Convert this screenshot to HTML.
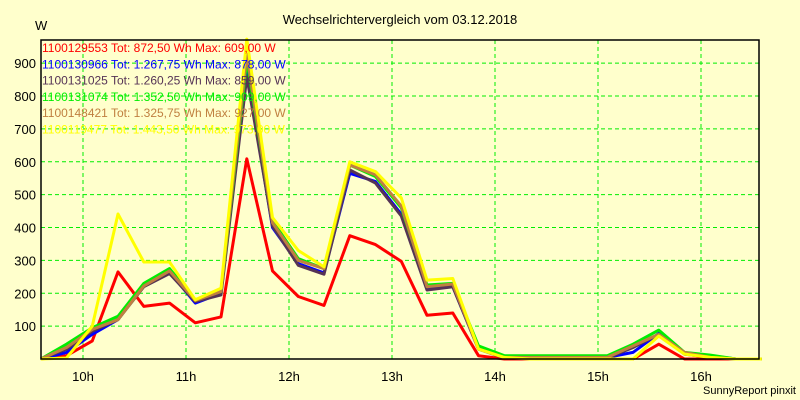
<!DOCTYPE html>
<html><head><meta charset="utf-8"><style>
html,body{margin:0;padding:0;background:#FFFFCC;}
svg{display:block;font-family:"Liberation Sans",sans-serif;}
</style></head><body>
<svg id="chart" width="800" height="400" viewBox="0 0 800 400">
<rect x="0" y="0" width="800" height="400" fill="#FFFFCC"/>
<text x="400" y="24" text-anchor="middle" font-size="13" fill="#000">Wechselrichtervergleich vom 03.12.2018</text>
<text x="35" y="30" font-size="13" fill="#000">W</text>
<g id="grid"></g>
<g id="series"></g>
<g id="axes"></g>
<g id="legend"></g>
<text x="796" y="394" text-anchor="end" font-size="11" fill="#000">SunnyReport pinxit</text>
</svg>
<script>
const NS="http://www.w3.org/2000/svg";
const startHour=9.59;
const stepHour=0.25;
const yTicks=[100,200,300,400,500,600,700,800,900];
const xTicks=[10,11,12,13,14,15,16];
const xTickLabels=["10h","11h","12h","13h","14h","15h","16h"];
const seriesNames=["1100129553 Tot: 872,50 Wh Max: 609,00 W","1100130966 Tot: 1.267,75 Wh Max: 878,00 W","1100131025 Tot: 1.260,25 Wh Max: 859,00 W","1100131074 Tot: 1.352,50 Wh Max: 909,00 W","1100148421 Tot: 1.325,75 Wh Max: 927,00 W","1100119477 Tot: 1.443,50 Wh Max: 973,00 W"];
const seriesColors=["#FF0000","#0000FF","#553355","#00EE00","#C08040","#FFFF00"];
const sRed=[0,10,55,265,160,170,110,128,609,268,190,163,375,348,297,133,140,10,0,0,0,0,0,0,45,0,0,0,0];
const sBlue=[0,20,75,120,225,265,170,200,878,400,290,262,565,540,440,215,220,30,5,5,5,5,5,20,78,15,10,0,0];
const sDark=[0,30,85,120,220,260,175,195,859,405,285,258,575,535,435,210,220,30,3,3,3,3,3,35,75,15,5,0,0];
const sGreen=[0,45,95,130,230,275,180,205,909,420,305,275,590,555,460,225,230,40,10,10,10,10,10,45,88,20,12,0,0];
const sBrown=[0,35,90,120,222,268,178,205,927,415,300,275,590,560,465,220,228,30,5,5,5,5,5,40,75,20,5,0,0];
const sYellow=[0,3,100,441,295,295,180,215,973,430,330,280,600,570,490,240,245,30,5,0,0,0,0,0,70,15,5,0,0];
const allSeries=[sRed,sBlue,sDark,sGreen,sBrown,sYellow];
const L=41,R=759,T=40,B=359;
function xs(h){return 83+(h-10)*103;}
function ys(v){return B-v*0.32875;}
function mk(tag,attrs,parent){const e=document.createElementNS(NS,tag);for(const k in attrs)e.setAttribute(k,attrs[k]);parent.appendChild(e);return e;}
const grid=document.getElementById('grid'),axes=document.getElementById('axes'),ser=document.getElementById('series'),leg=document.getElementById('legend');
yTicks.forEach(v=>{
 const l=mk('line',{x1:L,x2:R,y1:ys(v),y2:ys(v),stroke:'#00EE00','stroke-dasharray':'4,3','stroke-width':1},grid);
 
 
 const t=mk('text',{x:36,y:ys(v)+5,'text-anchor':'end','font-size':13,fill:'#000'},axes);
 t.textContent=v;
 
 
});
xTicks.forEach((h,i)=>{
 const l=mk('line',{x1:xs(h),x2:xs(h),y1:T,y2:B,stroke:'#00EE00','stroke-dasharray':'4,3','stroke-width':1},grid);
 
 
 const t=mk('text',{x:xs(h),y:381,'text-anchor':'middle','font-size':13,fill:'#000'},axes);
 t.textContent=xTickLabels[i];
 
 
});
const frame=mk('path',{d:`M${L},${T} H${R} V${B} H${L} Z`,fill:'none',stroke:'#000','stroke-width':1.5},axes);


allSeries.forEach((s,k)=>{
 const pts=s.map((v,i)=>xs(startHour+i*stepHour).toFixed(1)+','+ys(v).toFixed(1)).join(' ');
 const p=mk('polyline',{points:pts,fill:'none',stroke:seriesColors[k],'stroke-width':3,'stroke-linejoin':'round'},ser);
 
 
});
seriesNames.forEach((n,k)=>{
 const t=mk('text',{x:42,y:52+k*16.3,'font-size':12,fill:seriesColors[k]},leg);
 t.textContent=n;
 
 
});
</script>
</body></html>
